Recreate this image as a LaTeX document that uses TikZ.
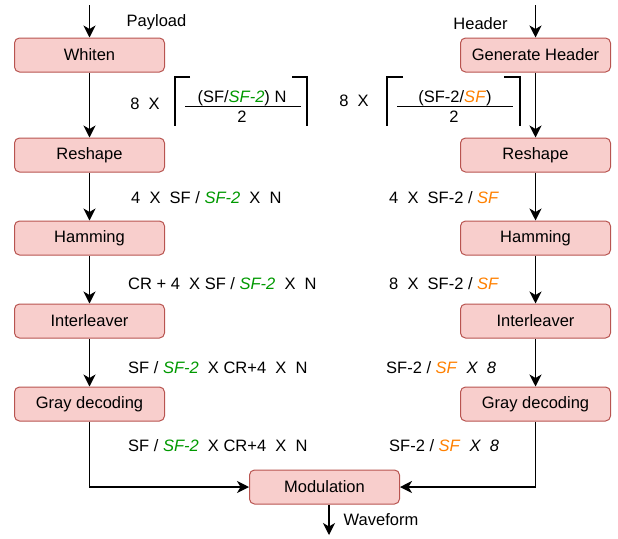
\documentclass[tikz,border=0pt]{standalone}
\usepackage{fontspec}
\setmainfont{Liberation Sans}
\usetikzlibrary{arrows.meta,calc}
\definecolor{boxfill}{HTML}{F8CECC}
\definecolor{boxline}{HTML}{B85450}
\definecolor{sfgreen}{HTML}{009900}
\definecolor{sforange}{HTML}{FF8000}
\newcommand{\gsf}{\textcolor{sfgreen}{\textit{SF-2}}}
\newcommand{\osf}{\textcolor{sforange}{\textit{SF}}}

\tikzset{
	block/.style={draw=boxline,fill=boxfill,rounded corners=5pt,line width=1pt,minimum width=150pt,minimum height=34pt,font=\fontsize{16.5}{19}\selectfont},
	flow/.style={-{Stealth[length=12pt,width=12pt,inset=3.5pt]},line width=1.2pt},
	lbl/.style={font=\fontsize{16.5}{19}\selectfont,inner sep=0pt},
	brk/.style={line width=1.2pt}
}

\begin{document}
\begin{tikzpicture}[x=1pt,y=-1pt]
	\useasboundingbox (0,0) rectangle (618,538);
	% payload chain
	\node[block] (whiten) at (89.5,55) {Whiten};
	\node[block] (reshL) at (89.5,155) {Reshape};
	\node[block] (hamL) at (89.5,238) {Hamming};
	\node[block] (intL) at (89.5,321) {Interleaver};
	\node[block] (grayL) at (89.5,404) {Gray decoding};
	% header chain
	\node[block] (genH) at (535.5,55) {Generate Header};
	\node[block] (reshR) at (535.5,155) {Reshape};
	\node[block] (hamR) at (535.5,238) {Hamming};
	\node[block] (intR) at (535.5,321) {Interleaver};
	\node[block] (grayR) at (535.5,404) {Gray decoding};
	% output
	\node[block] (mod) at (324.5,487) {Modulation};
	% inputs
	\coordinate (inL) at (89.5,5);
	\coordinate (inR) at (535.5,5);
	\coordinate (out) at (329,535);
	\draw[flow] (inL) -- (whiten);
	\draw[flow] (inR) -- (genH);
	\node[lbl] (payload) at (156.5,22) {Payload};
	\node[lbl] (header) at (480.5,24) {Header};
	% arrows
	\draw[flow] (whiten) -- (reshL);
	\draw[flow] (reshL) -- (hamL);
	\draw[flow] (hamL) -- (intL);
	\draw[flow] (intL) -- (grayL);
	\draw[flow] (genH) -- (reshR);
	\draw[flow] (reshR) -- (hamR);
	\draw[flow] (hamR) -- (intR);
	\draw[flow] (intR) -- (grayR);
	\draw[flow] (grayL.south) |- (mod.west);
	\draw[flow] (grayR.south) |- (mod.east);
	\draw[flow] (mod.south -| out) -- (out);
	\node[lbl] (wave) at (381,520) {Waveform};
	% ceiling brackets
	\node[lbl] (eightL) at (145,104) {8~ X};
	\draw[brk] (190,77) -- (175,77) -- (175,126);
	\draw[brk] (292,77) -- (307,77) -- (307,126);
	\node[lbl] (numL) at (242,98) {(SF/\gsf) N};
	\draw[line width=1pt] (185,106) -- (301,106);
	\node[lbl] (denL) at (242,117) {2};
	\node[lbl] (eightR) at (354,101) {8~ X};
	\draw[brk] (403,77) -- (387,77) -- (387,126);
	\draw[brk] (504,77) -- (520,77) -- (520,126);
	\node[lbl] (numR) at (455,98) {(SF-2/\osf)};
	\draw[line width=1pt] (397,106) -- (513,106);
	\node[lbl] (denR) at (454,117) {2};
	% sizes
	\node[lbl,anchor=west] (szL1) at (131,198) {4~ X~ SF / \gsf~ X~ N};
	\node[lbl,anchor=west] (szR1) at (389,198) {4~ X~ SF-2 / \osf};
	\node[lbl,anchor=west] (szL2) at (128,284) {CR + 4~ X SF / \gsf~ X~ N};
	\node[lbl,anchor=west] (szR2) at (389,284) {8~ X~ SF-2 / \osf};
	\node[lbl,anchor=west] (szL3) at (128,368) {SF / \gsf~ X CR+4~ X~ N};
	\node[lbl,anchor=west] (szR3) at (386,368) {SF-2 / \osf~ \textit{X~ 8}};
	\node[lbl,anchor=west] (szL4) at (128,446) {SF / \gsf~ X CR+4~ X~ N};
	\node[lbl,anchor=west] (szR4) at (389,446) {SF-2 / \osf~ \textit{X~ 8}};
\end{tikzpicture}
\end{document}
